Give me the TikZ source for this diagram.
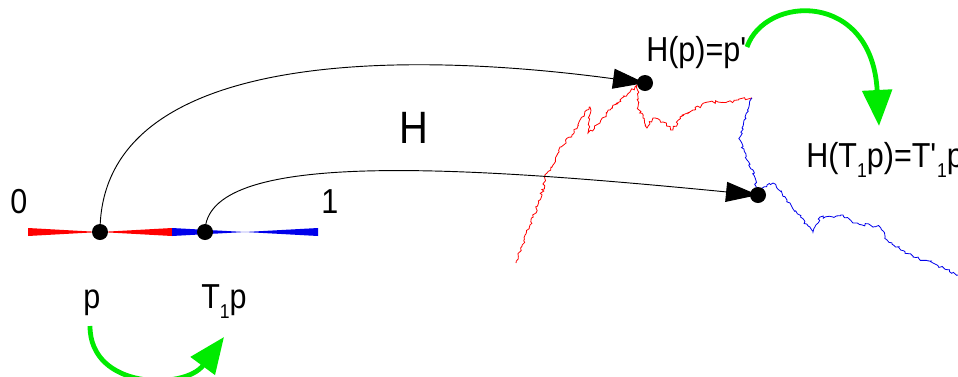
\documentclass[tikz,border=0pt]{standalone}
\usepackage{fontspec}
\setmainfont[FakeStretch=0.88]{Liberation Sans}
\usetikzlibrary{arrows.meta,decorations.pathmorphing}
\definecolor{gr}{RGB}{0,235,0}
\definecolor{rd}{RGB}{255,0,0}
\definecolor{bl}{RGB}{0,0,235}
\newcommand\sbs[1]{\raisebox{-8pt}{\fontsize{15}{15}\selectfont #1}}
\newcommand\prm{\textquotesingle}
\tikzset{
  lbl/.style={inner sep=0pt, anchor=base west, font=\fontsize{26}{28}\selectfont},
  dotpt/.style={circle, fill=black, minimum size=12pt, inner sep=0pt},
  maparrow/.style={black, line width=0.7pt, -{Triangle[length=24pt,width=15pt]}},
  grarrow/.style={gr, line width=3.6pt, -{Triangle[length=27pt,width=22pt]}},
  frac/.style={line width=0.6pt, decorate, decoration={random steps, segment length=1.6pt, amplitude=1.1pt}},
}
\begin{document}
\begin{tikzpicture}[x=0.75pt,y=-0.75pt]
\useasboundingbox (0,0) rectangle (958,376);
\clip (0,0) rectangle (958,376);
\pgfmathsetseed{7}
% interval pieces
\fill[rd] (28,228) -- (28,236) -- (100,232) -- cycle;
\fill[rd] (100,232) -- (172,228) -- (172,236) -- cycle;
\fill[bl] (172,228) -- (172,236) -- (245,232) -- cycle;
\fill[bl] (245,232) -- (318,228) -- (318,236) -- cycle;
% fractal curve
\draw[rd, frac] (516,263) -- (530,225) -- (540,200) -- (547,173) -- (553,165) -- (560,147) -- (572,135) -- (580,120) -- (590,107) -- (588,133) -- (600,123) -- (610,110) -- (620,100) -- (630,92) -- (637,85) -- (638,107) -- (643,118) -- (647,128) -- (653,118) -- (663,122) -- (673,130) -- (680,117) -- (693,110) -- (708,102) -- (727,102) -- (752,98);
\draw[bl, frac] (752,98) -- (745,117) -- (742,128) -- (740,140) -- (747,160) -- (753,170) -- (757,193) -- (767,185) -- (773,183) -- (787,200) -- (797,213) -- (813,232) -- (820,217) -- (833,217) -- (843,215) -- (853,223) -- (880,227) -- (887,240) -- (913,257) -- (933,263) -- (958,275);
% points
\node[dotpt] (p) at (100,232) {};
\node[dotpt] (tp) at (205,232) {};
\node[dotpt] (hp) at (645,83) {};
\node[dotpt] (htp) at (758,195) {};
% labels
\node[lbl] (l0) at (10,213) {0};
\node[lbl] (l1) at (321,213) {1};
\node[lbl, font=\fontsize{34}{36}\selectfont] (H) at (399,143) {H};
\node[lbl] (lp) at (83,308) {p};
\node[lbl] (ltp) at (201,308) {T\sbs{1}p};
\node[lbl] (lhp) at (646,61) {H(p)=p\prm};
\node[lbl] (lhtp) at (806,167) {H(T\sbs{1}p)=T\prm\sbs{1}p\prm};
% map arrows
\draw[maparrow] (p.center) .. controls (100,50) and (400,50) .. (hp.center);
\draw[maparrow] (tp.center) .. controls (205,150) and (450,165) .. (htp.center);
% green arrows
\coordinate (g1s) at (90,326);
\coordinate (g1e) at (224,337);
\draw[grarrow] (g1s) .. controls (90,390) and (185,390) .. (g1e);
\coordinate (g2s) at (747,47);
\coordinate (g2e) at (879,126);
\draw[grarrow] (g2s) .. controls (765,-5) and (872,-10) .. (g2e);
\end{tikzpicture}
\end{document}
